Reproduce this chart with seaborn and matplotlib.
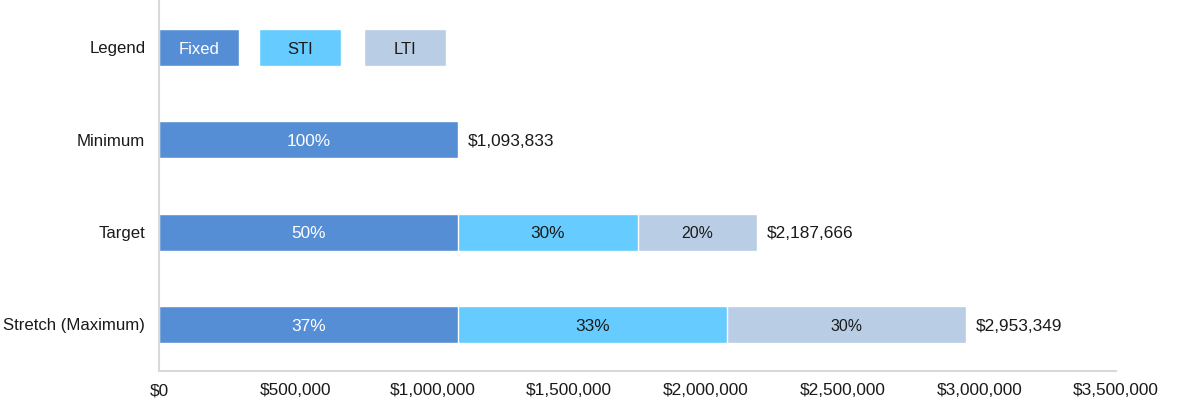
import matplotlib
matplotlib.use("Agg")
import matplotlib.pyplot as plt
import seaborn as sns
import pandas as pd
from matplotlib.ticker import FuncFormatter

sns.set_theme(style="white")
plt.rcParams['font.family'] = ["Liberation Sans", "DejaVu Sans"]

categories = ["Legend", "Minimum", "Target", "Stretch (Maximum)"]
components = ["Fixed", "STI", "LTI"]
fixed = [0, 1093833, 1093833, 1093833]
sti = [0, 0, 656300, 984000]
lti = [0, 0, 437533, 875516]
totals = ["", "$1,093,833", "$2,187,666", "$2,953,349"]
pct_fixed = ["", "100%", "50%", "37%"]
pct_sti = ["", "", "30%", "33%"]
pct_lti = ["", "", "20%", "30%"]
legend_left = [0, 365000, 750000]
legend_width = [292000, 300000, 300000]
colors = {"Fixed": "#558ED5", "STI": "#66CCFF", "LTI": "#B9CDE5"}
text_colors = {"Fixed": "white", "STI": "#1a1a1a", "LTI": "#1a1a1a"}

FS = 12.4

fig, ax = plt.subplots(figsize=(11.79, 4.05), dpi=100)
fig.subplots_adjust(left=0.135, right=0.9465, top=0.997, bottom=0.085)

df = pd.DataFrame({"cat": categories, "Fixed": fixed, "STI": sti, "LTI": lti})
df["c1"] = df["Fixed"] + df["STI"]
df["c2"] = df["c1"] + df["LTI"]

# stacked bars drawn back to front via cumulative values
for col, comp in [("c2", "LTI"), ("c1", "STI"), ("Fixed", "Fixed")]:
    sns.barplot(data=df, y="cat", x=col, color=colors[comp], orient="h", width=0.4, ax=ax,
                edgecolor="white", linewidth=1, saturation=1)

# legend row
for comp, l, w in zip(components, legend_left, legend_width):
    ax.barh(0, w, left=l, height=0.4, color=colors[comp], edgecolor="white", linewidth=1)
    ax.text(l + w / 2, 0.02, comp, ha="center", va="center", color=text_colors[comp], fontsize=FS - 0.4)

for i in range(1, 4):
    segs = [(0, fixed[i], pct_fixed[i], "Fixed"),
            (fixed[i], sti[i], pct_sti[i], "STI"),
            (fixed[i] + sti[i], lti[i], pct_lti[i], "LTI")]
    for l, w, t, comp in segs:
        if t:
            ax.text(l + w / 2, i + 0.02, t, ha="center", va="center", color=text_colors[comp],
                    fontsize=FS if comp != "LTI" else FS - 1)
    ax.text(fixed[i] + sti[i] + lti[i] + 35000, i + 0.02, totals[i], ha="left", va="center",
            color="#1a1a1a", fontsize=FS)

ax.set_xlim(0, 3500000)
ax.set_ylim(3.5, -0.5)
ax.set_xticks(range(0, 3500001, 500000))
ax.xaxis.set_major_formatter(FuncFormatter(lambda v, p: f"${v:,.0f}"))
ax.set_xlabel("")
ax.set_ylabel("")
for s in ["top", "right"]:
    ax.spines[s].set_visible(False)
ax.spines["left"].set_color("#d9d9d9")
ax.spines["bottom"].set_color("#d9d9d9")
ax.spines["left"].set_linewidth(1.5)
ax.spines["bottom"].set_linewidth(1.5)
ax.tick_params(axis="x", length=5, color="#d9d9d9", width=1.2, labelsize=FS, labelcolor="#1a1a1a", pad=4)
ax.tick_params(axis="y", length=0, labelsize=FS - 0.3, labelcolor="#1a1a1a", pad=10)

fig.savefig("out.png", dpi=100)
